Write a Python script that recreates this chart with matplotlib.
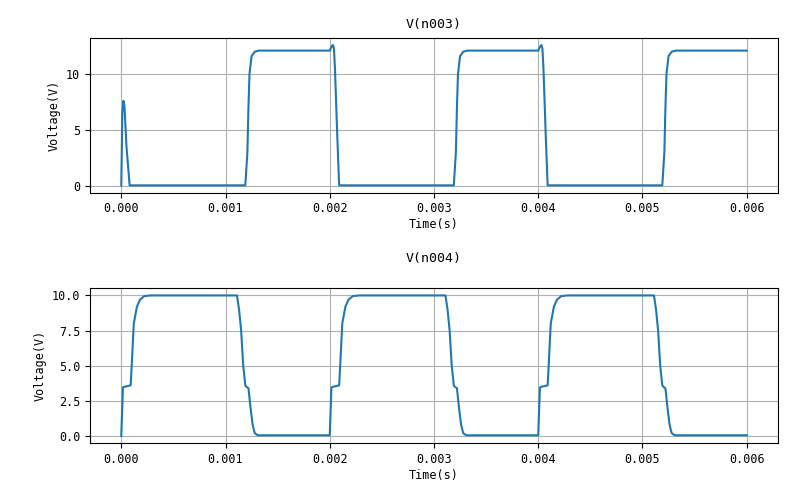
import matplotlib
matplotlib.use('Agg')
import matplotlib.pyplot as plt

plt.rcParams['font.family'] = ['DejaVu Sans Mono', 'Noto Sans CJK SC']
plt.rcParams['font.size'] = 8.5

# V(n003) 读图所得折点
t_n003 = [0, 0.000005, 0.00001, 0.00002, 0.00003, 0.00005, 0.00008,
          0.00119, 0.00121, 0.00122, 0.00123, 0.00125, 0.00128, 0.00132,
          0.00200, 0.00202, 0.00203, 0.00204, 0.00205, 0.00207, 0.00209,
          0.00319, 0.00321, 0.00322, 0.00323, 0.00325, 0.00328, 0.00332,
          0.00400, 0.00402, 0.00403, 0.00404, 0.00405, 0.00407, 0.00409,
          0.00519, 0.00521, 0.00522, 0.00523, 0.00525, 0.00528, 0.00532,
          0.00600]
v_n003 = [0, 3.0, 6.5, 7.6, 7.2, 3.5, 0.02,
          0.02, 3.0, 7.0, 10.0, 11.6, 12.0, 12.1,
          12.1, 12.5, 12.6, 12.3, 10.5, 5.0, 0.02,
          0.02, 3.0, 7.0, 10.0, 11.6, 12.0, 12.1,
          12.1, 12.5, 12.6, 12.3, 10.5, 5.0, 0.02,
          0.02, 3.0, 7.0, 10.0, 11.6, 12.0, 12.1,
          12.1]

# V(n004)
t_n004 = [0, 0.000016, 0.00003, 0.00009, 0.00010, 0.00012, 0.00015, 0.00018, 0.00022, 0.00028,
          0.00111, 0.00113, 0.00115, 0.00117, 0.00119, 0.00120, 0.00122, 0.00124, 0.00126, 0.00128, 0.00131, 0.00135,
          0.00200, 0.002016, 0.00203, 0.00209, 0.00210, 0.00212, 0.00215, 0.00218, 0.00222, 0.00228,
          0.00311, 0.00313, 0.00315, 0.00317, 0.00319, 0.00320, 0.00322, 0.00324, 0.00326, 0.00328, 0.00331, 0.00335,
          0.00400, 0.004016, 0.00403, 0.00409, 0.00410, 0.00412, 0.00415, 0.00418, 0.00422, 0.00428,
          0.00511, 0.00513, 0.00515, 0.00517, 0.00519, 0.00520, 0.00522, 0.00524, 0.00526, 0.00528, 0.00531, 0.00535,
          0.00600]
v_n004 = [0, 3.45, 3.5, 3.6, 5.0, 8.0, 9.2, 9.7, 9.95, 10.0,
          10.0, 9.0, 7.5, 5.0, 3.6, 3.5, 3.4, 2.0, 0.8, 0.2, 0.05, 0.05,
          0.05, 3.45, 3.5, 3.6, 5.0, 8.0, 9.2, 9.7, 9.95, 10.0,
          10.0, 9.0, 7.5, 5.0, 3.6, 3.5, 3.4, 2.0, 0.8, 0.2, 0.05, 0.05,
          0.05, 3.45, 3.5, 3.6, 5.0, 8.0, 9.2, 9.7, 9.95, 10.0,
          10.0, 9.0, 7.5, 5.0, 3.6, 3.5, 3.4, 2.0, 0.8, 0.2, 0.05, 0.05,
          0.05]

yticks_n003 = [0, 5, 10]
yticks_n004 = [0, 2.5, 5, 7.5, 10]

fig, axes = plt.subplots(2, 1, figsize=(8, 5), dpi=100)

for ax, t, v, name, yt, pad in [(axes[0], t_n003, v_n003, 'V(n003)', yticks_n003, 7),
                                (axes[1], t_n004, v_n004, 'V(n004)', yticks_n004, 19)]:
    ax.plot(t, v)
    ax.set_yticks(yt)
    ax.set_title(name, fontsize=9.5, pad=pad)
    ax.set_xlabel('Time(s)', labelpad=2)
    ax.set_ylabel('Voltage(V)')
    ax.grid(True)

axes[1].set_yticklabels(['0.0', '2.5', '5.0', '7.5', '10.0'])

plt.subplots_adjust(left=0.1125, right=0.9725, top=0.924, bottom=0.114, hspace=0.62)
plt.savefig('out.png')
